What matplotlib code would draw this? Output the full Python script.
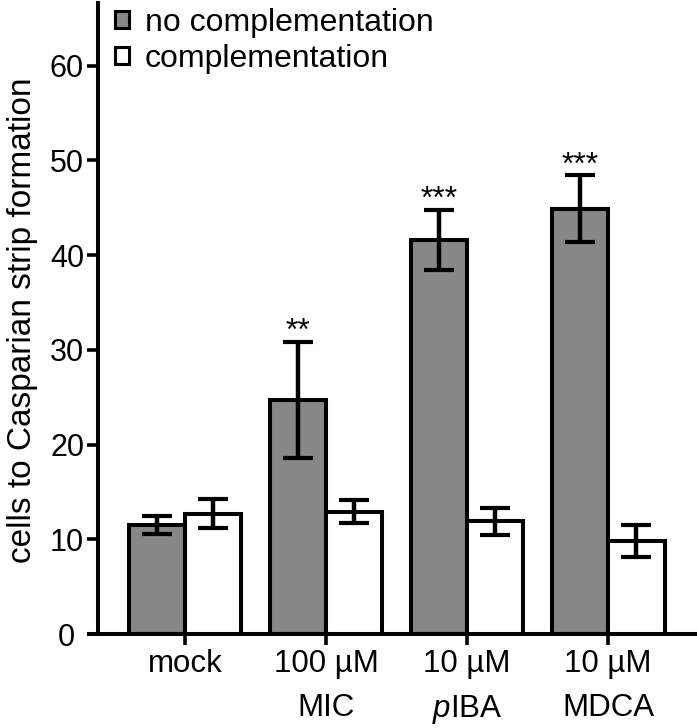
import numpy as np
import matplotlib.pyplot as plt
from matplotlib.patches import Patch
from matplotlib.transforms import ScaledTranslation

plt.rcParams['font.family'] = ['Liberation Sans', 'DejaVu Sans']
plt.rcParams['mathtext.fontset'] = 'custom'
plt.rcParams['mathtext.it'] = 'Liberation Sans:italic'
plt.rcParams['mathtext.rm'] = 'Liberation Sans'

# data
groups = ["mock", "100 µM\nMIC", "10 µM\n$\\mathit{p}$IBA", "10 µM\nMDCA"]
no_comp = [11.5, 24.7, 41.6, 44.9]
no_comp_err = [0.95, 6.1, 3.2, 3.5]
comp = [12.7, 12.9, 11.9, 9.85]
comp_err = [1.5, 1.2, 1.45, 1.7]
stars = ["", "**", "***", "***"]

x = np.arange(len(groups))
w = 0.4

fig = plt.figure(figsize=(6.97, 7.28), dpi=100)
ax = fig.add_axes([0.1277, 0.1291, 0.8723, 0.8668])

lw = 2.9
ax.bar(x - w / 2, no_comp, w, color='#878787', edgecolor='black', linewidth=lw, zorder=2)
ax.bar(x + w / 2, comp, w, color='white', edgecolor='black', linewidth=lw, zorder=2)
ax.errorbar(x - w / 2, no_comp, yerr=no_comp_err, fmt='none', ecolor='black',
            elinewidth=3.2, capsize=10.5, capthick=3, zorder=3)
ax.errorbar(x + w / 2, comp, yerr=comp_err, fmt='none', ecolor='black',
            elinewidth=3.2, capsize=10.5, capthick=3, zorder=3)

for i, s in enumerate(stars):
    if s:
        ax.text(x[i] - w / 2, no_comp[i] + no_comp_err[i] + 0.2, s,
                ha='center', va='baseline', fontsize=23)

ax.set_xlim(-0.68, 3.63)
ax.set_ylim(0, 66.6)
ax.set_yticks(np.arange(0, 61, 10))
ax.set_xticks(x)
ax.set_xticklabels(groups, fontsize=22.5, linespacing=1.58)
ax.tick_params(axis='y', labelsize=22, width=2.6, length=8, pad=2)
ax.tick_params(axis='x', width=2.6, length=8, pad=3)
ax.set_ylabel("cells to Casparian strip formation", fontsize=24)
ax.yaxis.set_label_coords(-0.084, 0.497)

for sp in ['top', 'right']:
    ax.spines[sp].set_visible(False)
for sp in ['left', 'bottom']:
    ax.spines[sp].set_linewidth(2.9)
ax.spines['left'].set_position(('data', -0.617))

# the zero label sits a little further left in the original
zero_lab = ax.get_yticklabels()[0]
zero_lab.set_transform(zero_lab.get_transform() + ScaledTranslation(-0.09, 0, fig.dpi_scale_trans))

handles = [Patch(facecolor='#878787', edgecolor='black', linewidth=2.2),
           Patch(facecolor='white', edgecolor='black', linewidth=2.2)]
ax.legend(handles, ["no complementation", "complementation"], loc='upper left',
          bbox_to_anchor=(0.043, 0.992), frameon=False, fontsize=23,
          handlelength=0.42, handleheight=0.42, handletextpad=0.5,
          labelspacing=0.18, borderaxespad=0, borderpad=0)

fig.savefig("out.png", dpi=100)
